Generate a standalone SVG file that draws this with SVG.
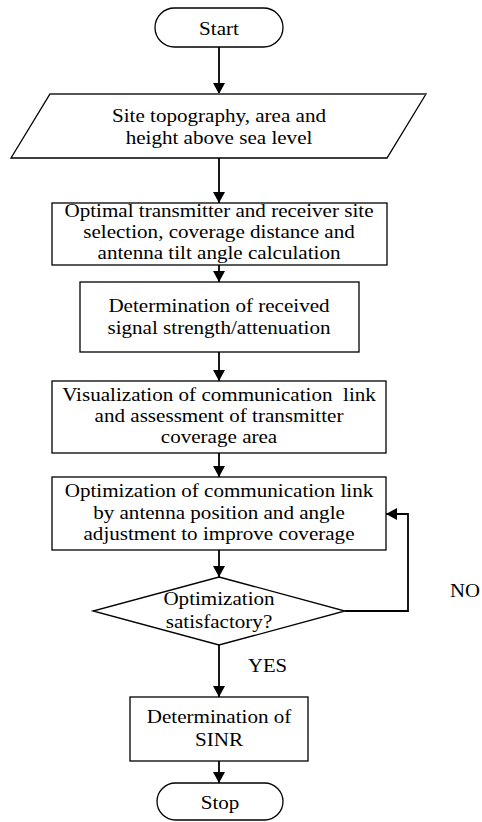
<svg xmlns="http://www.w3.org/2000/svg" width="482" height="822" viewBox="0 0 482 822">
<style>
.shape{fill:#fff;stroke:#000;stroke-width:1.3}
.t{font-family:'Liberation Serif','Times New Roman','DejaVu Serif',serif;font-size:18.5px;fill:#000;text-anchor:middle}
.lbl{font-family:'Liberation Serif','Times New Roman','DejaVu Serif',serif;font-size:18.5px;fill:#000}
.c{fill:none;stroke:#000;stroke-width:1.8}
</style>
<defs>
<marker id="ah" markerUnits="userSpaceOnUse" markerWidth="12" markerHeight="12" refX="11" refY="6" orient="auto">
<path d="M0,0 L11,6 L0,12 z" fill="#000"/>
</marker>
</defs>
<rect width="482" height="822" fill="#fff"/>
<g id="connectors">
<line class="c" x1="219" y1="47" x2="219" y2="94" marker-end="url(#ah)"/>
<line class="c" x1="219" y1="158" x2="219" y2="203" marker-end="url(#ah)"/>
<line class="c" x1="219" y1="265" x2="219" y2="282" marker-end="url(#ah)"/>
<line class="c" x1="219" y1="352" x2="219" y2="381" marker-end="url(#ah)"/>
<line class="c" x1="219" y1="453" x2="219" y2="477" marker-end="url(#ah)"/>
<line class="c" x1="219" y1="550" x2="219" y2="577" marker-end="url(#ah)"/>
<line class="c" x1="219" y1="645" x2="219" y2="697" marker-end="url(#ah)"/>
<line class="c" x1="219" y1="761" x2="219" y2="783" marker-end="url(#ah)"/>
<polyline class="c" points="345,611 408,611 408,514 386,514" marker-end="url(#ah)"/>
<g transform="translate(248,672) scale(1.12,1)"><text class="lbl" x="0" y="0">YES</text></g>
<g transform="translate(450,597) scale(1.12,1)"><text class="lbl" x="0" y="0">NO</text></g>
</g>
<g id="start">
<rect class="shape" x="155" y="8" width="128" height="39" rx="19.5" ry="19.5"/>
<g transform="translate(219,0) scale(1.14,1)"><text class="t" x="0" y="35">Start</text></g>
</g>
<g id="input">
<polygon class="shape" points="50,94 426,94 387,158 11,158"/>
<line x1="50" y1="94" x2="426" y2="94" stroke="#555" stroke-width="2"/>
<g transform="translate(219,0) scale(1.14,1)">
<text class="t" x="0" y="122">Site topography, area and</text>
<text class="t" x="0" y="144">height above sea level</text>
</g>
</g>
<g id="site-selection">
<rect class="shape" x="52" y="203" width="335" height="62"/>
<g transform="translate(219,0) scale(1.14,1)">
<text class="t" x="0" y="217">Optimal transmitter and receiver site</text>
<text class="t" x="0" y="238">selection, coverage distance and</text>
<text class="t" x="0" y="259">antenna tilt angle calculation</text>
</g>
</g>
<g id="signal-strength">
<rect class="shape" x="80" y="282" width="279" height="70"/>
<g transform="translate(219,0) scale(1.14,1)">
<text class="t" x="0" y="312">Determination of received</text>
<text class="t" x="0" y="334">signal strength/attenuation</text>
</g>
</g>
<g id="visualization">
<rect class="shape" x="52" y="381" width="334" height="72"/>
<g transform="translate(219,0) scale(1.14,1)">
<text class="t" x="0" y="401" style="white-space:pre">Visualization of communication  link</text>
<text class="t" x="0" y="422">and assessment of transmitter</text>
<text class="t" x="0" y="443">coverage area</text>
</g>
</g>
<g id="optimization">
<rect class="shape" x="52" y="477" width="334" height="73"/>
<g transform="translate(219,0) scale(1.14,1)">
<text class="t" x="0" y="497">Optimization of communication link</text>
<text class="t" x="0" y="519">by antenna position and angle</text>
<text class="t" x="0" y="540">adjustment to improve coverage</text>
</g>
</g>
<g id="decision">
<polygon class="shape" points="219,577 345,611 219,645 93,611"/>
<g transform="translate(219,0) scale(1.14,1)">
<text class="t" x="0" y="605">Optimization</text>
<text class="t" x="0" y="628">satisfactory?</text>
</g>
</g>
<g id="sinr">
<rect class="shape" x="130" y="697" width="178" height="64"/>
<g transform="translate(219,0) scale(1.14,1)">
<text class="t" x="0" y="723">Determination of</text>
<text class="t" x="0" y="746">SINR</text>
</g>
</g>
<g id="stop">
<rect class="shape" x="157" y="783" width="126" height="37" rx="18.5" ry="18.5"/>
<g transform="translate(220,0) scale(1.14,1)"><text class="t" x="0" y="809">Stop</text></g>
</g>
</svg>
